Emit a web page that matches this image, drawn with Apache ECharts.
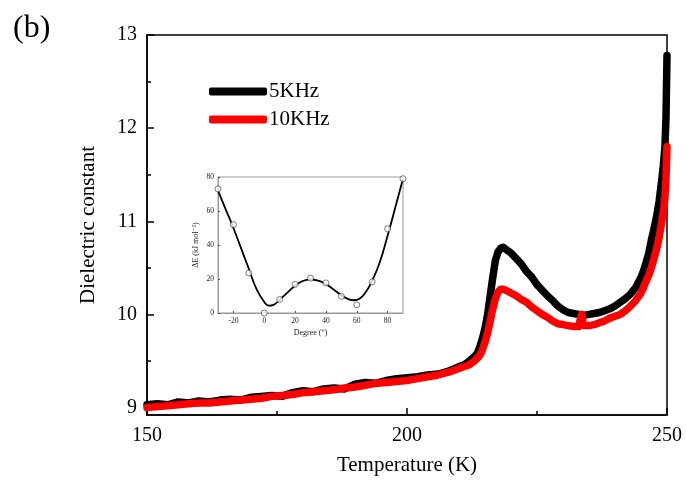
<!DOCTYPE html>
<html>
<head>
<meta charset="utf-8">
<script src="https://cdn.jsdelivr.net/npm/echarts@6.0.0/dist/echarts.min.js"></script>
<style>
  html, body { margin: 0; padding: 0; background: #fff; }
  #chart { width: 686px; height: 481px; }
</style>
</head>
<body>
<div id="chart"></div>
<script>
// main panel: dielectric constant vs temperature
const black5k = [
  [150, 9.03], [152, 9.04], [154, 9.03], [156, 9.06], [158, 9.05], [160, 9.07],
  [162, 9.06], [164, 9.08], [166, 9.09], [168, 9.08], [170, 9.11], [172, 9.12],
  [174, 9.13], [176, 9.12], [178, 9.16], [180, 9.18], [182, 9.17], [184, 9.2],
  [186, 9.21], [188, 9.2], [190, 9.25], [192, 9.27], [194, 9.26], [196, 9.29],
  [198, 9.31], [200, 9.32], [202, 9.33], [204, 9.35], [206, 9.36], [208, 9.39],
  [210, 9.44], [211, 9.46], [212, 9.5], [213, 9.55], [213.5, 9.58], [214, 9.65],
  [214.5, 9.74], [215, 9.85], [215.5, 10.0], [216, 10.2], [216.5, 10.4], [217, 10.58],
  [217.5, 10.67], [218, 10.71], [218.5, 10.72], [219, 10.7], [220, 10.66], [221, 10.6],
  [222, 10.54], [223, 10.46], [224, 10.4], [225, 10.32], [226, 10.26], [227, 10.2],
  [228, 10.15], [229, 10.09], [230, 10.05], [231, 10.02], [232, 10.01], [233, 10.0],
  [234, 9.99], [235, 10.0], [236, 10.01], [237, 10.02], [238, 10.04], [239, 10.06],
  [240, 10.09], [241, 10.13], [242, 10.17], [243, 10.22], [244, 10.29], [245, 10.4],
  [245.5, 10.47], [246, 10.56], [246.5, 10.66], [247, 10.8], [247.5, 10.92], [248, 11.05],
  [248.5, 11.22], [249, 11.45], [249.3, 11.6], [249.6, 11.8], [249.8, 12.1], [250, 12.78]
];
const red10k = [
  [150, 9.0], [152, 9.01], [154, 9.02], [156, 9.03], [158, 9.04], [160, 9.05],
  [162, 9.05], [164, 9.06], [166, 9.07], [168, 9.08], [170, 9.09], [172, 9.1],
  [174, 9.12], [176, 9.13], [178, 9.14], [180, 9.16], [182, 9.17], [184, 9.18],
  [186, 9.19], [188, 9.21], [190, 9.22], [192, 9.24], [194, 9.26], [196, 9.27],
  [198, 9.28], [200, 9.29], [202, 9.31], [204, 9.33], [206, 9.35], [208, 9.38],
  [210, 9.42], [211, 9.44], [212, 9.46], [213, 9.5], [214, 9.56], [214.5, 9.62],
  [215, 9.7], [215.5, 9.8], [216, 9.93], [216.5, 10.06], [217, 10.17], [217.5, 10.24],
  [218, 10.27], [218.5, 10.27], [219, 10.26], [220, 10.23], [221, 10.2], [222, 10.16],
  [223, 10.13], [224, 10.08], [225, 10.04], [226, 10.0], [227, 9.97], [228, 9.93],
  [229, 9.9], [230, 9.89], [231, 9.88], [232, 9.87], [233, 9.87], [233.4, 9.96],
  [233.6, 10.0], [233.8, 9.92], [234, 9.88], [235, 9.88], [236, 9.89], [237, 9.91],
  [238, 9.93], [239, 9.96], [240, 9.98], [241, 10.0], [242, 10.04], [243, 10.09],
  [244, 10.15], [245, 10.23], [245.5, 10.29], [246, 10.36], [246.5, 10.42], [247, 10.5],
  [247.5, 10.6], [248, 10.7], [248.5, 10.83], [249, 11.0], [249.3, 11.1], [249.6, 11.25],
  [249.8, 11.45], [250, 11.8]
];
const yMajor = [9, 10, 11, 12, 13];
const yMinor = [9.5, 10.5, 11.5, 12.5];

// inset: energy vs torsion angle
const insetFit = [
  [-30, 72], [-25, 61], [-20, 50], [-15, 38], [-10, 26], [-5, 14], [0, 6.5], [3, 4.3],
  [6, 4.8], [10, 7.8], [15, 12], [20, 16], [25, 18.8], [30, 19.7], [35, 19], [40, 17],
  [45, 13.8], [50, 10.5], [55, 8], [58, 7.5], [62, 8.5], [66, 12.5], [70, 19], [75, 30],
  [80, 45.5], [85, 62], [90, 79]
];
const insetCalc = [
  [-30, 73], [-20, 52], [-10, 23.5], [0, 0], [10, 8], [20, 16.8], [30, 20.5],
  [40, 17.7], [50, 9.8], [60, 4.8], [70, 18.3], [80, 49.5], [90, 79]
];
const insetXTicks = [-20, 0, 20, 40, 60, 80];

const serif = '"Liberation Serif", "DejaVu Serif", serif';
const chart = echarts.init(document.getElementById('chart'));

chart.setOption({
  backgroundColor: '#fff',
  animation: false,
  title: {
    text: '(b)',
    left: 8,
    top: 8,
    textStyle: { fontFamily: serif, fontSize: 32, fontWeight: 'normal', color: '#000' }
  },
  legend: {
    data: ['5KHz', '10KHz'],
    orient: 'vertical',
    left: 204,
    top: 76,
    itemWidth: 58,
    itemHeight: 8,
    itemGap: 7,
    icon: 'roundRect',
    textStyle: { fontFamily: serif, fontSize: 21, color: '#000', padding: [0, 0, 0, -3] }
  },
  grid: [
    { left: 147, top: 35, width: 520, height: 381, show: true, borderColor: '#000', borderWidth: 1.5 },
    { left: 218, top: 177, width: 185, height: 136, show: true, borderColor: '#999', borderWidth: 1, backgroundColor: '#fff', z: 5 }
  ],
  xAxis: [
    {
      gridIndex: 0, type: 'value', min: 150, max: 250, interval: 50,
      name: 'Temperature (K)', nameLocation: 'middle', nameGap: 40,
      nameTextStyle: { fontFamily: serif, fontSize: 21, color: '#000' },
      axisLine: { onZero: false, lineStyle: { color: '#000', width: 1.5 } },
      axisTick: { inside: true, length: 7, lineStyle: { color: '#000', width: 1.5 } },
      minorTick: { show: true, splitNumber: 2, length: 4, lineStyle: { color: '#000', width: 1.5 } },
      axisLabel: { fontFamily: serif, fontSize: 20, color: '#000', margin: 11 },
      splitLine: { show: false }
    },
    {
      gridIndex: 1, type: 'value', min: -30, max: 90,
      name: 'Degree (°)', nameLocation: 'middle', nameGap: 16,
      nameTextStyle: { fontFamily: serif, fontSize: 8, color: '#222' },
      axisLine: { onZero: false, lineStyle: { color: '#999', width: 1 } },
      axisTick: { inside: true, length: 2, customValues: insetXTicks, lineStyle: { color: '#555' } },
      axisLabel: { fontFamily: serif, fontSize: 7.5, color: '#222', margin: 4, customValues: insetXTicks },
      splitLine: { show: false },
      z: 6
    }
  ],
  yAxis: [
    {
      gridIndex: 0, type: 'value', min: 8.92, max: 13,
      name: 'Dielectric constant', nameLocation: 'middle', nameGap: 48,
      nameTextStyle: { fontFamily: serif, fontSize: 21, color: '#000' },
      axisLine: { onZero: false, lineStyle: { color: '#000', width: 1.5 } },
      axisTick: { inside: true, length: 7, customValues: yMajor, lineStyle: { color: '#000', width: 1.5 } },
      axisLabel: { fontFamily: serif, fontSize: 20, color: '#000', margin: 10, customValues: yMajor },
      splitLine: { show: false }
    },
    {
      gridIndex: 0, type: 'value', min: 8.92, max: 13, position: 'left',
      axisLine: { show: false, onZero: false },
      axisTick: { inside: true, length: 4, customValues: yMinor, lineStyle: { color: '#000', width: 1.5 } },
      axisLabel: { show: false },
      splitLine: { show: false }
    },
    {
      gridIndex: 1, type: 'value', min: 0, max: 80, interval: 20,
      name: 'ΔE (kJ mol⁻¹)', nameLocation: 'middle', nameGap: 18,
      nameTextStyle: { fontFamily: serif, fontSize: 8, color: '#222' },
      axisLine: { onZero: false, lineStyle: { color: '#999', width: 1 } },
      axisTick: { inside: true, length: 2, lineStyle: { color: '#555' } },
      axisLabel: { fontFamily: serif, fontSize: 7.5, color: '#222', margin: 4 },
      splitLine: { show: false },
      z: 6
    }
  ],
  series: [
    {
      name: '5KHz', type: 'line', xAxisIndex: 0, yAxisIndex: 0,
      data: black5k, showSymbol: false, symbol: 'none',
      lineStyle: { color: '#000', width: 7.5, cap: 'round', join: 'round' },
      itemStyle: { color: '#000' }, z: 2
    },
    {
      name: '10KHz', type: 'line', xAxisIndex: 0, yAxisIndex: 0,
      data: red10k, showSymbol: false, symbol: 'none',
      lineStyle: { color: '#ff0000', width: 7.5, cap: 'round', join: 'round' },
      itemStyle: { color: '#ff0000' }, z: 3
    },
    {
      name: 'fit', type: 'line', xAxisIndex: 1, yAxisIndex: 2,
      data: insetFit, smooth: true, showSymbol: false, symbol: 'none',
      lineStyle: { color: '#000', width: 1.8 }, z: 7
    },
    {
      name: 'calc', type: 'scatter', xAxisIndex: 1, yAxisIndex: 2,
      data: insetCalc, symbol: 'circle', symbolSize: 6,
      itemStyle: { color: '#fff', borderColor: '#333', borderWidth: 0.8 }, z: 8
    }
  ]
});
</script>
</body>
</html>
